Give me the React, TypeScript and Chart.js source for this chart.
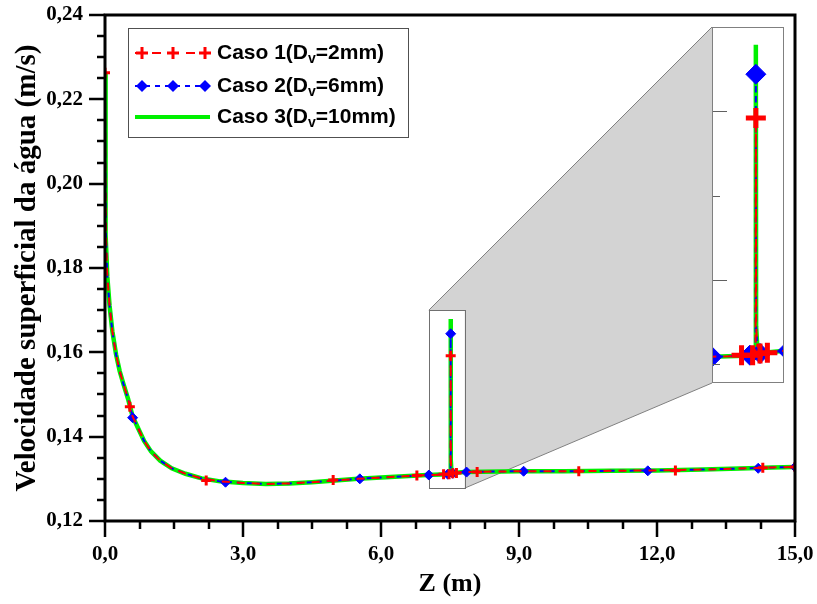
import { useEffect, useRef } from 'react';
import { Chart, registerables } from 'chart.js';

Chart.register(...registerables);

// ---------- data ----------
const zCurve = [0, 0.005, 0.02, 0.05, 0.1, 0.16, 0.24, 0.32, 0.4, 0.5, 0.6, 0.72, 0.85, 1.0, 1.2, 1.45, 1.75, 2.1, 2.5, 3.0, 3.5, 4.0, 4.5, 5.0, 5.5, 6.0, 6.5, 7.0, 7.3, 7.512, 7.515, 7.518, 7.53, 7.6, 7.8, 8.2, 9.0, 10.0, 11.0, 12.0, 13.0, 14.0, 14.5, 15.0];
const vCase1 = [0.2263, 0.205, 0.188, 0.178, 0.171, 0.165, 0.1595, 0.1555, 0.1525, 0.149, 0.1448, 0.142, 0.139, 0.1365, 0.1343, 0.1325, 0.1312, 0.1301, 0.1294, 0.129, 0.1288, 0.1289, 0.1292, 0.1296, 0.13, 0.1303, 0.1306, 0.1309, 0.131, 0.1311, 0.1592, 0.1345, 0.1322, 0.1314, 0.1316, 0.1317, 0.1318, 0.1318, 0.1319, 0.132, 0.1322, 0.1325, 0.1327, 0.1328];
const vCase2 = [0.2263, 0.205, 0.188, 0.178, 0.171, 0.165, 0.1595, 0.1555, 0.1525, 0.149, 0.1448, 0.142, 0.139, 0.1365, 0.1343, 0.1325, 0.1312, 0.1301, 0.1294, 0.129, 0.1288, 0.1289, 0.1292, 0.1296, 0.13, 0.1303, 0.1306, 0.1309, 0.131, 0.1311, 0.1644, 0.1345, 0.1322, 0.1314, 0.1316, 0.1317, 0.1318, 0.1318, 0.1319, 0.132, 0.1322, 0.1325, 0.1327, 0.1328];
const vCase3 = [0.2263, 0.205, 0.188, 0.178, 0.171, 0.165, 0.1595, 0.1555, 0.1525, 0.149, 0.1448, 0.142, 0.139, 0.1365, 0.1343, 0.1325, 0.1312, 0.1301, 0.1294, 0.129, 0.1288, 0.1289, 0.1292, 0.1296, 0.13, 0.1303, 0.1306, 0.1309, 0.131, 0.1311, 0.1679, 0.1345, 0.1322, 0.1314, 0.1316, 0.1317, 0.1318, 0.1318, 0.1319, 0.132, 0.1322, 0.1325, 0.1327, 0.1328];

const zMarks1 = [0, 0.54, 2.2, 4.96, 6.78, 7.36, 7.48, 7.515, 7.56, 7.64, 8.09, 10.3, 12.4, 14.3, 15.0];
const vMarks1 = [0.2263, 0.1471, 0.1296, 0.1297, 0.1308, 0.1311, 0.1311, 0.1592, 0.1313, 0.1314, 0.1316, 0.1318, 0.132, 0.1326, 0.1328];
const zMarks2 = [0.6, 2.62, 5.54, 7.04, 7.45, 7.515, 7.56, 7.86, 9.1, 11.8, 14.2, 15.0];
const vMarks2 = [0.1445, 0.1292, 0.13, 0.1309, 0.1311, 0.1644, 0.1313, 0.1316, 0.1318, 0.1319, 0.1325, 0.1328];

const xTickValues = [0, 3, 6, 9, 12, 15];
const xTickLabels = ['0,0', '3,0', '6,0', '9,0', '12,0', '15,0'];
const xMinorStep = 0.75;
const yTickValues = [0.12, 0.14, 0.16, 0.18, 0.2, 0.22, 0.24];
const yTickLabels = ['0,12', '0,14', '0,16', '0,18', '0,20', '0,22', '0,24'];
const yMinorStep = 0.005;

const legendPrefix = ['Caso 1(D', 'Caso 2(D', 'Caso 3(D'];
const legendSub = ['v', 'v', 'v'];
const legendSuffix = ['=2mm)', '=6mm)', '=10mm)'];

const xTitle = 'Z (m)';
const yTitle = 'Velocidade superficial da água (m/s)';

const insetZRange = [7.04, 7.82];
const insetVRange = [0.1278, 0.17];
const insetMajorTicks = [0.14, 0.16];
const insetMinorTicks = [0.13, 0.15];

// ---------- layout / style ----------
const W = 817;
const H = 604;
const PLOT_LEFT = 105;
const PLOT_RIGHT = 795;
const PLOT_TOP = 15;
const PLOT_BOTTOM = 521;
const INSET = { left: 712, top: 27, width: 72, height: 356 };
const LEGEND = { left: 128, top: 28, width: 280, height: 109 };

const RED = '#ff0000';
const BLUE = '#0000ff';
const GREEN = '#00f000';
const SERIF = "'Liberation Serif', 'Times New Roman', serif";
const SANS = "'Liberation Sans', Arial, sans-serif";

const pts = (xs: number[], ys: number[]) => xs.map((x, i) => ({ x, y: ys[i] }));

function makeDatasets(k: number) {
  return [
    {
      label: 'm1',
      data: pts(zMarks1, vMarks1),
      showLine: false,
      pointStyle: 'cross',
      pointRadius: 5 * k,
      pointBorderWidth: k > 1 ? 5 : 3,
      borderColor: RED,
      backgroundColor: RED,
      clip: 0,
    },
    {
      label: 'c1',
      data: pts(zCurve, vCase1),
      showLine: true,
      borderColor: RED,
      borderWidth: 2,
      borderDash: [8, 7],
      pointRadius: 0,
      clip: 0,
    },
    {
      label: 'm2',
      data: pts(zMarks2, vMarks2),
      showLine: false,
      pointStyle: 'rectRot',
      pointRadius: 5 * k,
      pointBorderWidth: 1,
      borderColor: BLUE,
      backgroundColor: BLUE,
      clip: 0,
    },
    {
      label: 'c2',
      data: pts(zCurve, vCase2),
      showLine: true,
      borderColor: BLUE,
      borderWidth: 2,
      borderDash: [5, 5],
      pointRadius: 0,
      clip: 0,
    },
    {
      label: 'c3',
      data: pts(zCurve, vCase3),
      showLine: true,
      borderColor: GREEN,
      borderWidth: 4.5,
      pointRadius: 0,
      clip: 0,
    },
  ];
}

const mainDecor = {
  id: 'mainDecor',
  beforeDatasetsDraw(chart: any) {
    const { ctx, scales } = chart;
    const x = scales.x;
    const y = scales.y;
    const sL = x.getPixelForValue(insetZRange[0]);
    const sR = x.getPixelForValue(insetZRange[1]);
    const sT = y.getPixelForValue(insetVRange[1]);
    const sB = y.getPixelForValue(insetVRange[0]);
    const iL = INSET.left;
    const iT = INSET.top;
    const iB = INSET.top + INSET.height;
    ctx.save();
    ctx.beginPath();
    ctx.moveTo(sL, sT);
    ctx.lineTo(iL, iT);
    ctx.lineTo(iL, iB);
    ctx.lineTo(sR, sB);
    ctx.lineTo(sR, sT);
    ctx.closePath();
    ctx.fillStyle = '#d3d3d3';
    ctx.fill();
    ctx.strokeStyle = '#808080';
    ctx.lineWidth = 1;
    ctx.beginPath();
    ctx.moveTo(sL, sT);
    ctx.lineTo(iL, iT);
    ctx.moveTo(sR, sB);
    ctx.lineTo(iL, iB);
    ctx.stroke();
    ctx.strokeStyle = '#707070';
    ctx.strokeRect(Math.round(sL) + 0.5, Math.round(sT) + 0.5, Math.round(sR - sL), Math.round(sB - sT));
    ctx.restore();
  },
  afterDraw(chart: any) {
    const { ctx, scales, chartArea } = chart;
    const x = scales.x;
    const y = scales.y;
    ctx.save();
    ctx.strokeStyle = '#000';
    ctx.lineWidth = 2.5;
    ctx.beginPath();
    for (let v = 0; v <= 15 + 1e-9; v += xMinorStep) {
      const px = Math.round(x.getPixelForValue(v));
      const major = Math.abs(v / 3 - Math.round(v / 3)) < 1e-6;
      ctx.moveTo(px, chartArea.bottom);
      ctx.lineTo(px, chartArea.bottom + (major ? 16 : 8));
    }
    for (let v = 0.12; v <= 0.24 + 1e-9; v += yMinorStep) {
      const py = Math.round(y.getPixelForValue(v));
      const major = Math.abs(v / 0.02 - Math.round(v / 0.02)) < 1e-6;
      ctx.moveTo(chartArea.left, py);
      ctx.lineTo(chartArea.left - (major ? 16 : 8), py);
    }
    ctx.stroke();
    ctx.lineWidth = 3;
    ctx.strokeRect(chartArea.left, chartArea.top, chartArea.right - chartArea.left, chartArea.bottom - chartArea.top);

    // legend
    const L = LEGEND;
    ctx.fillStyle = '#fff';
    ctx.fillRect(L.left, L.top, L.width, L.height);
    ctx.lineWidth = 1;
    ctx.strokeStyle = '#505050';
    ctx.strokeRect(L.left + 0.5, L.top + 0.5, L.width, L.height);
    const rows = [L.top + 25, L.top + 58, L.top + 89];
    const sx0 = L.left + 7;
    const sx1 = L.left + 82;
    const mk = [L.left + 14, L.left + 45, L.left + 77];
    ctx.strokeStyle = RED;
    ctx.lineWidth = 2;
    ctx.setLineDash([9, 8]);
    ctx.beginPath();
    ctx.moveTo(sx0, rows[0]);
    ctx.lineTo(sx1, rows[0]);
    ctx.stroke();
    ctx.setLineDash([]);
    ctx.lineWidth = 3;
    for (const m of mk) {
      ctx.beginPath();
      ctx.moveTo(m - 6, rows[0]);
      ctx.lineTo(m + 6, rows[0]);
      ctx.moveTo(m, rows[0] - 6);
      ctx.lineTo(m, rows[0] + 6);
      ctx.stroke();
    }
    ctx.strokeStyle = BLUE;
    ctx.lineWidth = 2;
    ctx.setLineDash([5, 5]);
    ctx.beginPath();
    ctx.moveTo(sx0, rows[1]);
    ctx.lineTo(sx1, rows[1]);
    ctx.stroke();
    ctx.setLineDash([]);
    ctx.fillStyle = BLUE;
    for (const m of mk) {
      ctx.beginPath();
      ctx.moveTo(m, rows[1] - 6);
      ctx.lineTo(m + 6, rows[1]);
      ctx.lineTo(m, rows[1] + 6);
      ctx.lineTo(m - 6, rows[1]);
      ctx.closePath();
      ctx.fill();
    }
    ctx.strokeStyle = GREEN;
    ctx.lineWidth = 4;
    ctx.beginPath();
    ctx.moveTo(sx0, rows[2]);
    ctx.lineTo(sx1, rows[2]);
    ctx.stroke();
    ctx.fillStyle = '#000';
    ctx.textBaseline = 'middle';
    ctx.textAlign = 'left';
    for (let i = 0; i < 3; i++) {
      let tx = L.left + 89;
      ctx.font = `bold 21px ${SANS}`;
      ctx.fillText(legendPrefix[i], tx, rows[i]);
      tx += ctx.measureText(legendPrefix[i]).width;
      ctx.font = `bold 14px ${SANS}`;
      ctx.fillText(legendSub[i], tx, rows[i] + 6);
      tx += ctx.measureText(legendSub[i]).width;
      ctx.font = `bold 21px ${SANS}`;
      ctx.fillText(legendSuffix[i], tx, rows[i]);
    }
    ctx.restore();
  },
};

const insetDecor = {
  id: 'insetDecor',
  beforeDraw(chart: any) {
    const { ctx, width, height } = chart;
    ctx.save();
    ctx.fillStyle = '#fff';
    ctx.fillRect(0, 0, width, height);
    ctx.restore();
  },
  afterDraw(chart: any) {
    const { ctx, width, height, scales } = chart;
    ctx.save();
    ctx.strokeStyle = '#606060';
    ctx.lineWidth = 1;
    ctx.beginPath();
    for (const v of insetMajorTicks) {
      const py = Math.round(scales.y.getPixelForValue(v)) + 0.5;
      ctx.moveTo(0, py);
      ctx.lineTo(15, py);
    }
    for (const v of insetMinorTicks) {
      const py = Math.round(scales.y.getPixelForValue(v)) + 0.5;
      ctx.moveTo(0, py);
      ctx.lineTo(8, py);
    }
    ctx.stroke();
    ctx.strokeStyle = '#808080';
    ctx.strokeRect(0.5, 0.5, width - 1, height - 1);
    ctx.restore();
  },
};

export default function App() {
  const mainRef = useRef<HTMLCanvasElement>(null);
  const insetRef = useRef<HTMLCanvasElement>(null);

  useEffect(() => {
    const main = new Chart(mainRef.current as HTMLCanvasElement, {
      type: 'scatter',
      data: { datasets: makeDatasets(1) as any },
      options: {
        responsive: false,
        animation: false,
        events: [],
        layout: { autoPadding: false, padding: { left: 0, top: PLOT_TOP, right: W - PLOT_RIGHT, bottom: 0 } },
        plugins: { legend: { display: false }, tooltip: { enabled: false } },
        scales: {
          x: {
            type: 'linear',
            min: 0,
            max: 15,
            afterBuildTicks: (s: any) => {
              s.ticks = xTickValues.map((v) => ({ value: v }));
            },
            afterFit: (s: any) => {
              s.height = H - PLOT_BOTTOM;
            },
            border: { display: false },
            grid: { drawOnChartArea: false, drawTicks: true, tickLength: 21, tickColor: 'rgba(0,0,0,0)' },
            ticks: {
              autoSkip: false,
              maxRotation: 0,
              padding: 0,
              color: '#000',
              font: { family: SERIF, weight: 'bold', size: 21 },
              callback: (_v: any, i: number) => xTickLabels[i],
            },
            title: {
              display: true,
              text: xTitle,
              color: '#000',
              font: { family: SERIF, weight: 'bold', size: 26 },
              padding: { top: 0, bottom: 4 },
            },
          },
          y: {
            type: 'linear',
            min: 0.12,
            max: 0.24,
            afterBuildTicks: (s: any) => {
              s.ticks = yTickValues.map((v) => ({ value: v }));
            },
            afterFit: (s: any) => {
              s.width = PLOT_LEFT;
            },
            border: { display: false },
            grid: { drawOnChartArea: false, drawTicks: true, tickLength: 22, tickColor: 'rgba(0,0,0,0)' },
            ticks: {
              autoSkip: false,
              padding: 0,
              color: '#000',
              font: { family: SERIF, weight: 'bold', size: 21 },
              callback: (_v: any, i: number) => yTickLabels[i],
            },
            title: {
              display: true,
              text: yTitle,
              color: '#000',
              font: { family: SERIF, weight: 'bold', size: 29 },
              padding: { top: 10, bottom: 0 },
            },
          },
        },
      } as any,
      plugins: [mainDecor],
    });

    const inset = new Chart(insetRef.current as HTMLCanvasElement, {
      type: 'scatter',
      data: { datasets: makeDatasets(2) as any },
      options: {
        responsive: false,
        animation: false,
        events: [],
        layout: { autoPadding: false, padding: 0 },
        plugins: { legend: { display: false }, tooltip: { enabled: false } },
        scales: {
          x: { type: 'linear', min: insetZRange[0], max: insetZRange[1], display: false },
          y: { type: 'linear', min: insetVRange[0], max: insetVRange[1], display: false },
        },
      } as any,
      plugins: [insetDecor],
    });

    return () => {
      main.destroy();
      inset.destroy();
    };
  }, []);

  return (
    <div style={{ position: 'absolute', left: 0, top: 0, width: W, height: H, background: '#fff', overflow: 'hidden' }}>
      <canvas ref={mainRef} width={W} height={H} style={{ position: 'absolute', left: 0, top: 0, width: W, height: H }} />
      <canvas
        ref={insetRef}
        width={INSET.width}
        height={INSET.height}
        style={{ position: 'absolute', left: INSET.left, top: INSET.top, width: INSET.width, height: INSET.height }}
      />
    </div>
  );
}
